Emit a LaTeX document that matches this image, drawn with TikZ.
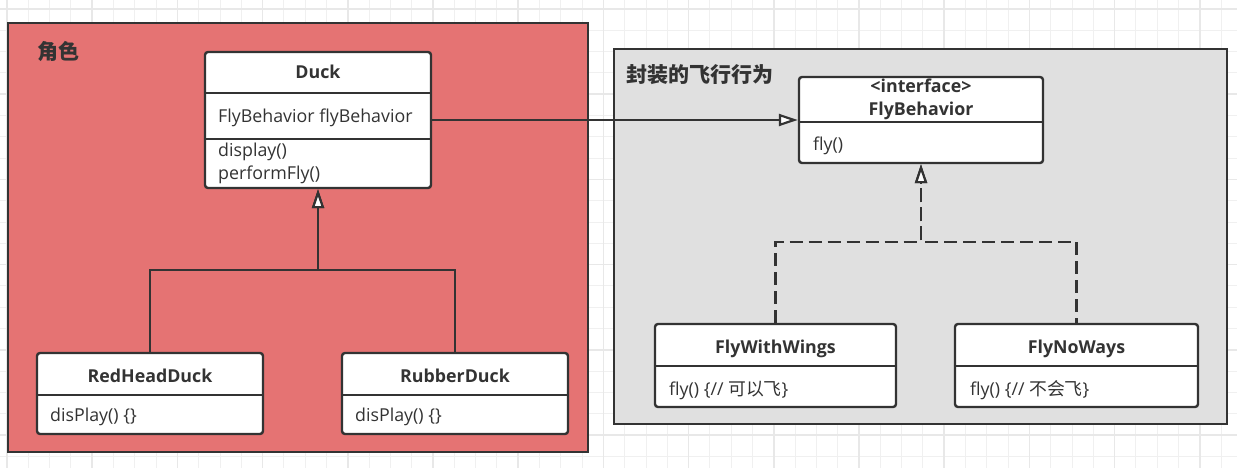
\documentclass[tikz,border=0pt]{standalone}
\usepackage{fontspec}
\setmainfont{Open Sans}
\newfontfamily\cjk{Noto Sans CJK SC}
\usetikzlibrary{arrows.meta}
\definecolor{linec}{HTML}{333333}
\definecolor{redfill}{HTML}{E57373}
\definecolor{grayfill}{HTML}{E0E0E0}
\definecolor{gridc}{HTML}{F0F0F0}
\definecolor{gridd}{HTML}{E8E8E8}
\tikzset{
  container/.style={draw=linec, line width=2.4pt, inner sep=0pt},
  umlbox/.style={draw=linec, line width=2.4pt, fill=white, rounded corners=3pt, inner sep=0pt},
  divider/.style={draw=linec, line width=2.2pt},
  txt/.style={font=\fontsize{17.8}{21}\selectfont, text=linec, inner sep=0pt},
  hd/.style={font=\fontsize{17.8}{21}\selectfont\bfseries, text=linec, inner sep=0pt},
  ttl/.style={font=\fontsize{21}{25}\selectfont\cjk\bfseries, text=linec, inner sep=0pt},
  tip/.style={-{Triangle[width=12pt,length=19pt,fill=white]}},
  inherit/.style={draw=linec, line width=2.2pt, line join=miter, tip},
  assoc/.style={draw=linec, line width=2.2pt, line join=miter, tip},
  realize/.style={draw=linec, line width=2.2pt, line join=miter, dash pattern=on 13pt off 6pt, tip}
}
\begin{document}
\begin{tikzpicture}[x=1pt,y=-1pt]
\useasboundingbox (0,0) rectangle (1237,468);
\fill[white] (0,0) rectangle (1237,468);
% grid
\foreach \i in {0,...,58} \draw[gridc, line width=1pt] ({7+21.3*\i},0) -- ({7+21.3*\i},468);
\foreach \j in {0,...,21} \draw[gridc, line width=1pt] (0,{9+21.3*\j}) -- (1237,{9+21.3*\j});
\foreach \i in {0,...,14} \draw[gridd, line width=1.5pt] ({7+85.2*\i},0) -- ({7+85.2*\i},468);
\foreach \j in {0,...,5} \draw[gridd, line width=1.5pt] (0,{9+85.2*\j}) -- (1237,{9+85.2*\j});

% containers
\node[container, fill=redfill, minimum width=580pt, minimum height=429pt] (roles) at (298,237.5) {};
\node[container, fill=grayfill, minimum width=613pt, minimum height=375pt] (behav) at (920.5,236.5) {};
\node[ttl, anchor=base west] (rolesT) at (37,60) {角色};
\node[ttl, anchor=base west] (behavT) at (626,83) {封装的飞行行为};

% class boxes
\node[umlbox, minimum width=226pt, minimum height=136pt] (duck) at (318,120) {};
\node[umlbox, minimum width=226pt, minimum height=81pt] (redhead) at (150,393.5) {};
\node[umlbox, minimum width=226pt, minimum height=81pt] (rubber) at (455,393.5) {};
\node[umlbox, minimum width=244pt, minimum height=86pt] (flyb) at (921,120) {};
\node[umlbox, minimum width=241pt, minimum height=83pt] (wings) at (775.5,365.5) {};
\node[umlbox, minimum width=243pt, minimum height=83pt] (noways) at (1076.5,365.5) {};

% dividers
\draw[divider] (duck.west |- 0,93) -- (duck.east |- 0,93);
\draw[divider] (duck.west |- 0,139) -- (duck.east |- 0,139);
\draw[divider] (redhead.west |- 0,395) -- (redhead.east |- 0,395);
\draw[divider] (rubber.west |- 0,395) -- (rubber.east |- 0,395);
\draw[divider] (flyb.west |- 0,122) -- (flyb.east |- 0,122);
\draw[divider] (wings.west |- 0,366) -- (wings.east |- 0,366);
\draw[divider] (noways.west |- 0,366) -- (noways.east |- 0,366);

% texts
\node[hd, anchor=base] (duckN) at (318,79) {Duck};
\node[txt, anchor=base west] (duckA) at (218,123) {FlyBehavior flyBehavior};
\node[txt, anchor=base west] (duckM1) at (218,157) {display()};
\node[txt, anchor=base west] (duckM2) at (218,179) {performFly()};
\node[hd, anchor=base] (redN) at (150,382) {RedHeadDuck};
\node[txt, anchor=base west] (redM) at (50,421) {disPlay() \{\}};
\node[hd, anchor=base] (rubN) at (455,382) {RubberDuck};
\node[txt, anchor=base west] (rubM) at (355,421) {disPlay() \{\}};
\node[hd, anchor=base] (flyS) at (921,93) {<interface>};
\node[hd, anchor=base] (flyN) at (921,116) {FlyBehavior};
\node[txt, anchor=base west] (flyM) at (813,150) {fly()};
\node[hd, anchor=base] (wingsN) at (775.5,353) {FlyWithWings};
\node[txt, anchor=base west] (wingsM) at (669,395) {fly() \{// {\cjk 可以飞}\}};
\node[hd, anchor=base] (nowaysN) at (1076.5,353) {FlyNoWays};
\node[txt, anchor=base west] (nowaysM) at (970,395) {fly() \{// {\cjk 不会飞}\}};

% connectors
\draw[inherit] (redhead.north) -- ++(0,-82) -| (duck.south);
\draw[inherit] (rubber.north) -- ++(0,-82) -| (duck.south);
\draw[assoc] (duck.east) -- (flyb.west);
\draw[realize] (wings.north) -- ++(0,-81) -| (flyb.south);
\draw[realize, dash phase=8pt] (noways.north) -- ++(0,-81) -| (flyb.south);
\end{tikzpicture}
\end{document}
